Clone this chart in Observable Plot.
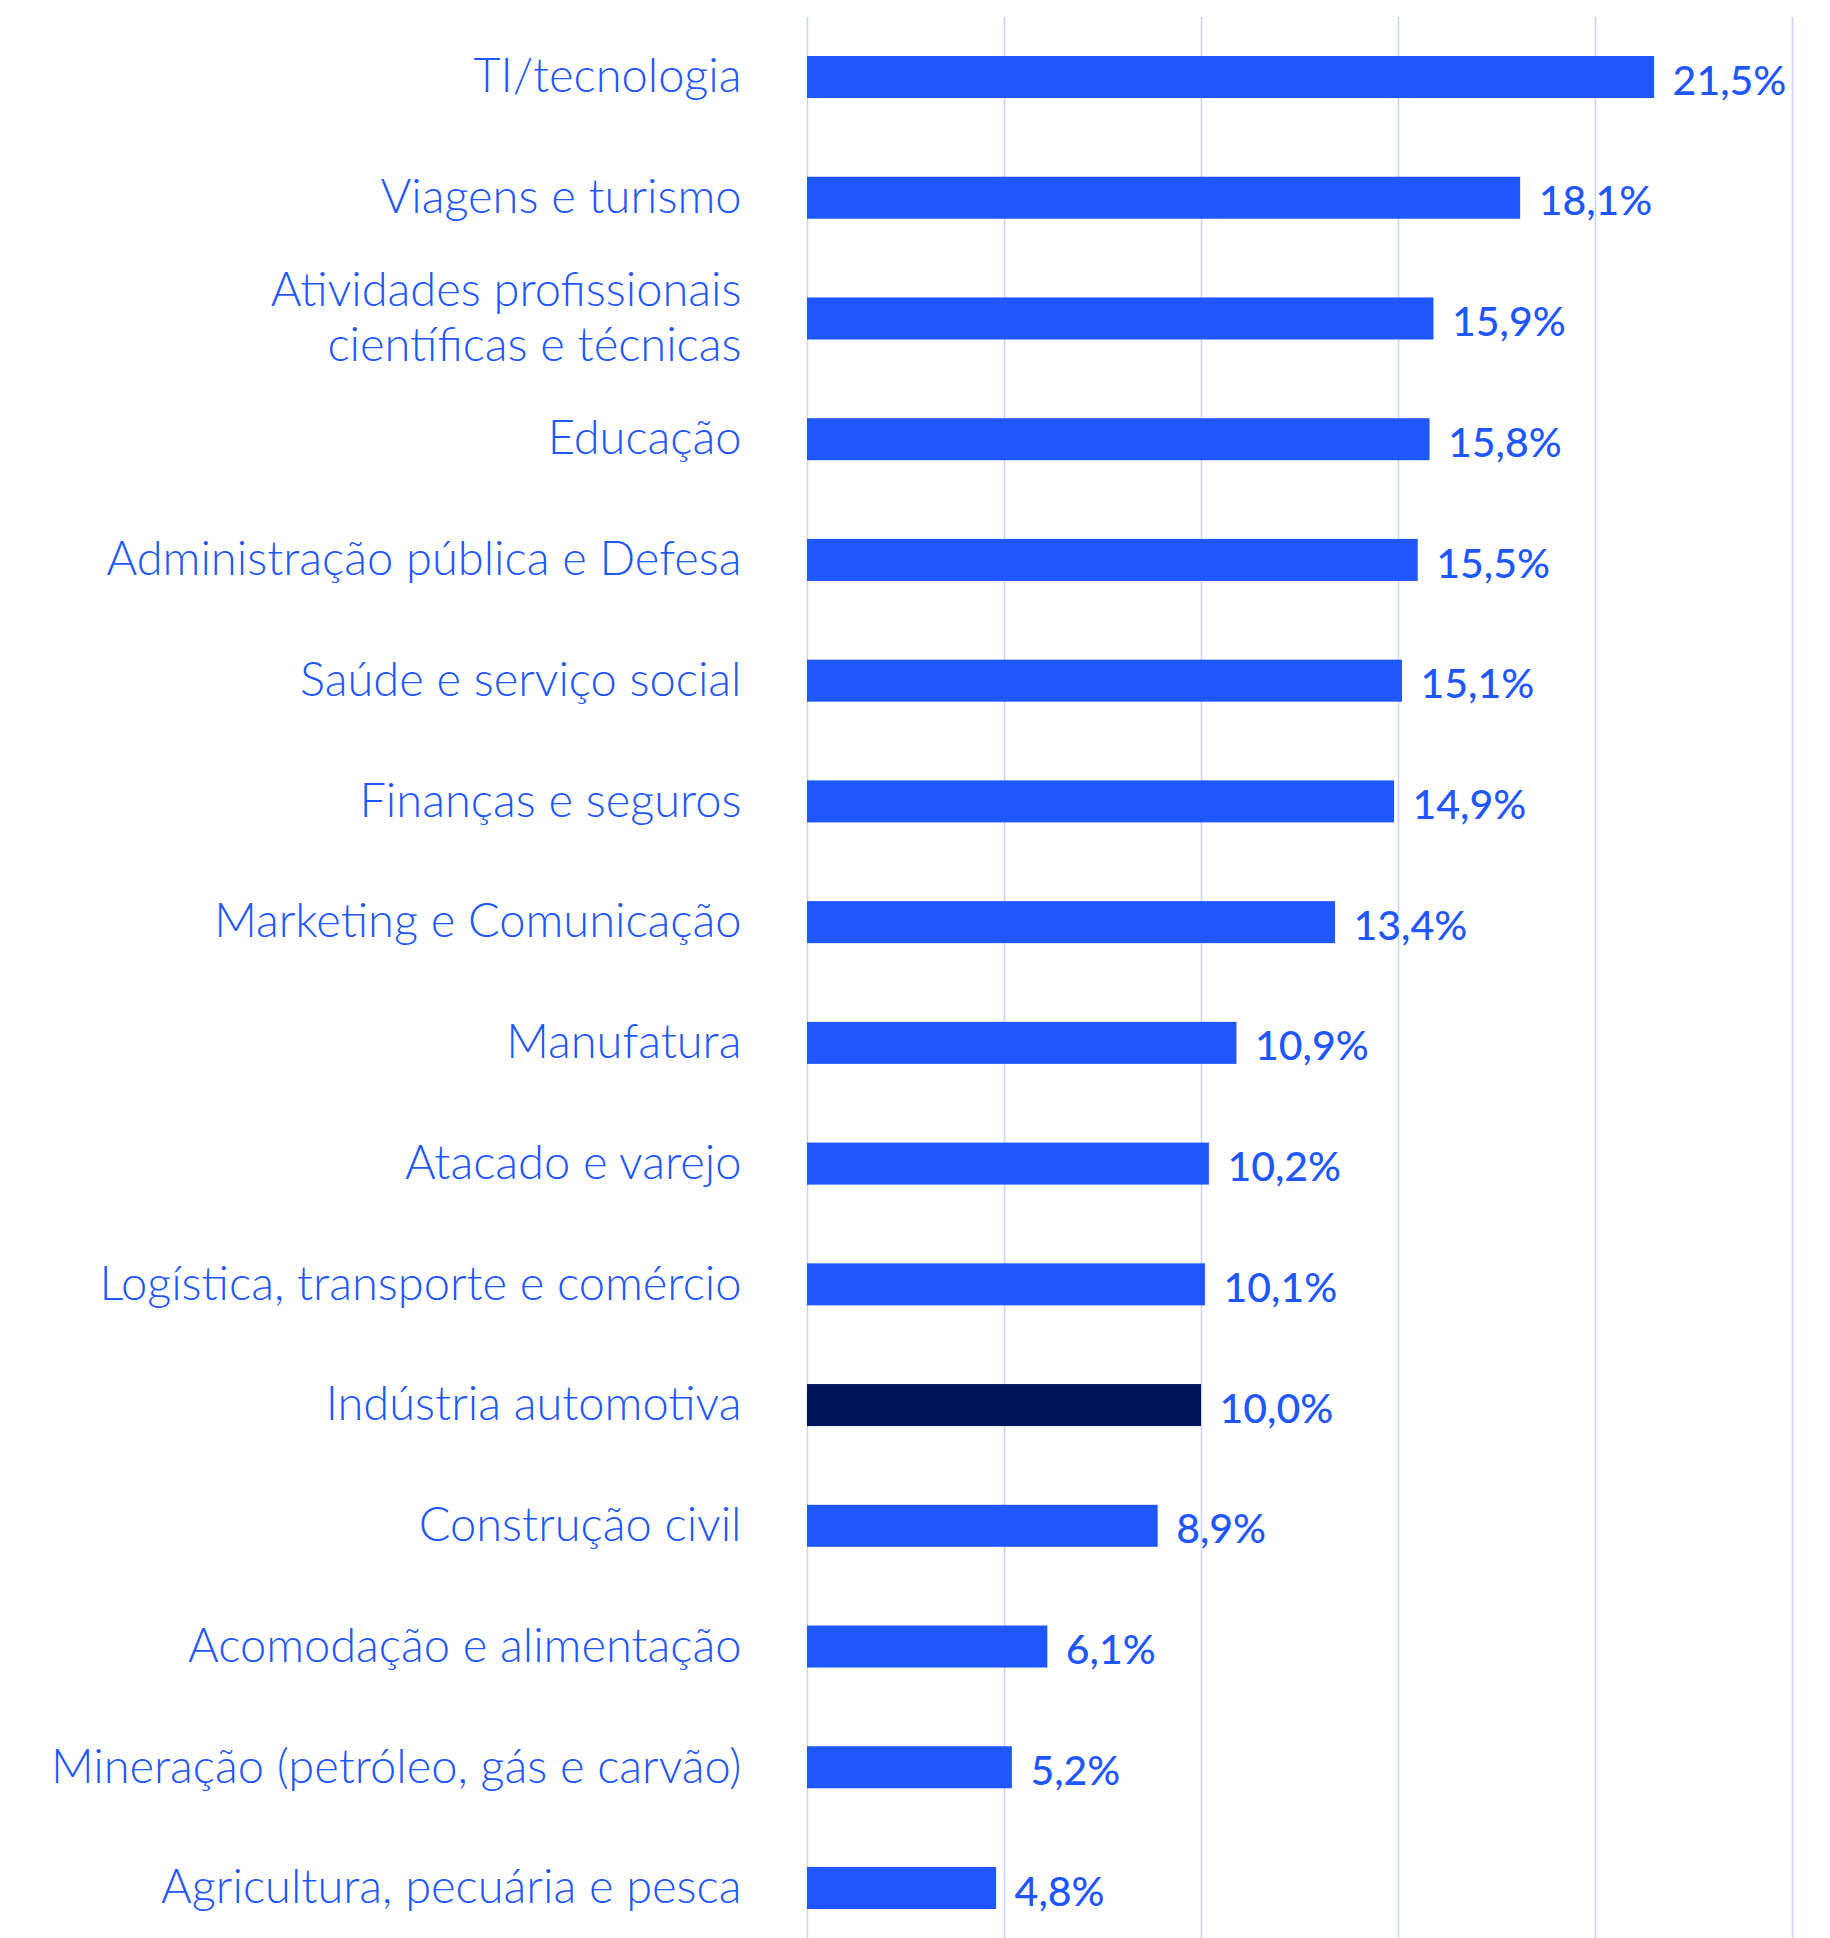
<!DOCTYPE html>
<html>
<head>
<meta charset="utf-8">
<script src="https://cdn.jsdelivr.net/npm/d3@7"></script>
<script src="https://cdn.jsdelivr.net/npm/@observablehq/plot@0.6"></script>
<style>
  html, body { margin: 0; padding: 0; background: #ffffff; }
  #chart svg { display: block; }
</style>
</head>
<body>
<div id="chart"></div>
<script>
const sectors = [
  "TI/tecnologia",
  "Viagens e turismo",
  "Atividades profissionais\ncientíficas e técnicas",
  "Educação",
  "Administração pública e Defesa",
  "Saúde e serviço social",
  "Finanças e seguros",
  "Marketing e Comunicação",
  "Manufatura",
  "Atacado e varejo",
  "Logística, transporte e comércio",
  "Indústria automotiva",
  "Construção civil",
  "Acomodação e alimentação",
  "Mineração (petróleo, gás e carvão)",
  "Agricultura, pecuária e pesca"
];
const values = [21.5, 18.1, 15.9, 15.8, 15.5, 15.1, 14.9, 13.4, 10.9, 10.2, 10.1, 10.0, 8.9, 6.1, 5.2, 4.8];
const highlighted = "Indústria automotiva";
const xTicks = [0, 5, 10, 15, 20, 25];

const BLUE = "#1f57ff";
const DARK = "#00145c";
const GRID = "#cbd3f7";

const data = sectors.map((s, i) => ({sector: s, value: values[i], hi: s === highlighted}));
const fmt = v => v.toFixed(1).replace(".", ",") + "%";

const chart = Plot.plot({
  width: 1830,
  height: 1938,
  marginLeft: 807,
  marginRight: 38,
  marginTop: 17,
  marginBottom: 0,
  x: {domain: [0, 25], axis: null},
  y: {domain: sectors, axis: null, range: [56, 1909], paddingInner: 0.652, paddingOuter: 0, round: false},
  style: {fontFamily: "Lato, 'Open Sans', sans-serif", background: "#ffffff"},
  marks: [
    Plot.gridX(xTicks, {stroke: GRID, strokeOpacity: 1, strokeWidth: 1.6}),
    Plot.barX(data, {x: "value", y: "sector", fill: d => d.hi ? DARK : BLUE}),
    Plot.text(data, {
      x: 0, y: "sector", text: "sector",
      textAnchor: "end", dx: -66, dy: -3,
      fontSize: 47, fontWeight: 300, fill: BLUE, lineHeight: 1.18
    }),
    Plot.text(data, {
      x: "value", y: "sector", text: d => fmt(d.value),
      textAnchor: "start", dx: 18, dy: 4,
      fontSize: 41, fontWeight: 500, fill: BLUE
    })
  ]
});
document.getElementById("chart").appendChild(chart);
</script>
</body>
</html>
